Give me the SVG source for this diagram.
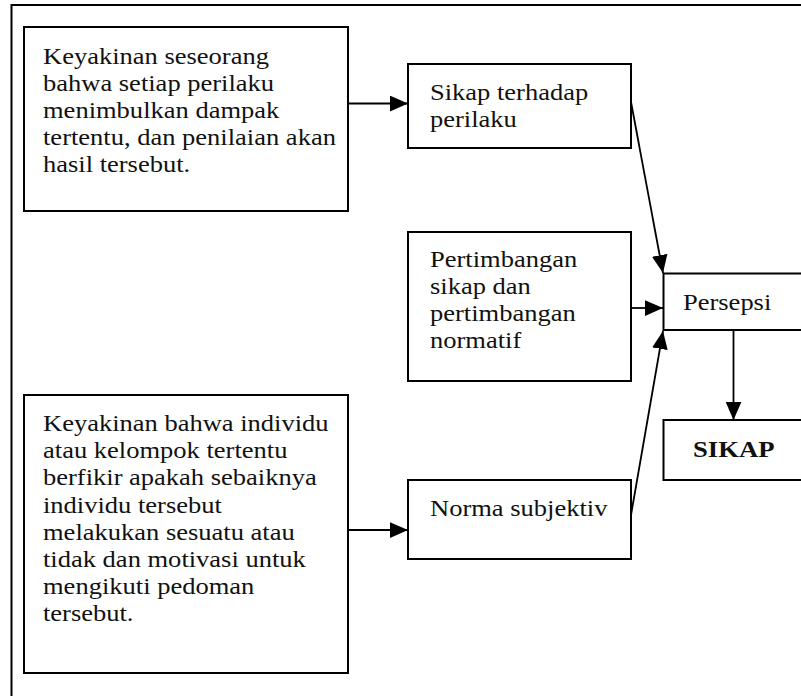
<svg xmlns="http://www.w3.org/2000/svg" width="801" height="696" viewBox="0 0 801 696">
<defs>
<style>
.box{fill:#fff;stroke:#000;stroke-width:2}
.t{font-family:"Liberation Serif","Times New Roman",serif;font-size:24px;fill:#111}
.b{font-weight:bold}
.c{stroke:#000;stroke-width:1.8;fill:none;marker-end:url(#ah)}
</style>
<marker id="ah" markerUnits="userSpaceOnUse" markerWidth="18" markerHeight="16" viewBox="0 0 16 14" refX="16" refY="7" orient="auto">
<path d="M0,0 L16,7 L0,14 Z" fill="#000"/>
</marker>
</defs>
<rect x="0" y="0" width="801" height="696" fill="#fff"/>
<g id="frame" fill="none" stroke="#000" stroke-width="2">
<path d="M11.5,696 V5 H801"/>
</g>
<g id="n1">
<rect class="box" x="24" y="27" width="324" height="184"/>
<text class="t" x="43" y="63.5" textLength="225.9" lengthAdjust="spacingAndGlyphs">Keyakinan seseorang</text>
<text class="t" x="43" y="90.7" textLength="231.1" lengthAdjust="spacingAndGlyphs">bahwa setiap perilaku</text>
<text class="t" x="43" y="117.9" textLength="236.3" lengthAdjust="spacingAndGlyphs">menimbulkan dampak</text>
<text class="t" x="43" y="145.1" textLength="292.9" lengthAdjust="spacingAndGlyphs">tertentu, dan penilaian akan</text>
<text class="t" x="43" y="172.3" textLength="147.2" lengthAdjust="spacingAndGlyphs">hasil tersebut.</text>
</g>
<g id="n2">
<rect class="box" x="24" y="395" width="324" height="278"/>
<text class="t" x="43" y="431" textLength="285.6" lengthAdjust="spacingAndGlyphs">Keyakinan bahwa individu</text>
<text class="t" x="43" y="458.2" textLength="244.4" lengthAdjust="spacingAndGlyphs">atau kelompok tertentu</text>
<text class="t" x="43" y="485.4" textLength="273.7" lengthAdjust="spacingAndGlyphs">berfikir apakah sebaiknya</text>
<text class="t" x="43" y="512.6" textLength="178.9" lengthAdjust="spacingAndGlyphs">individu tersebut</text>
<text class="t" x="43" y="539.8" textLength="251.7" lengthAdjust="spacingAndGlyphs">melakukan sesuatu atau</text>
<text class="t" x="43" y="567" textLength="262.8" lengthAdjust="spacingAndGlyphs">tidak dan motivasi untuk</text>
<text class="t" x="43" y="594.2" textLength="211.3" lengthAdjust="spacingAndGlyphs">mengikuti pedoman</text>
<text class="t" x="43" y="621.4" textLength="90.5" lengthAdjust="spacingAndGlyphs">tersebut.</text>
</g>
<g id="n3">
<rect class="box" x="408" y="64" width="223" height="84"/>
<text class="t" x="430" y="100" textLength="158.2" lengthAdjust="spacingAndGlyphs">Sikap terhadap</text>
<text class="t" x="430" y="127.2" textLength="86.8" lengthAdjust="spacingAndGlyphs">perilaku</text>
</g>
<g id="n4">
<rect class="box" x="408" y="232" width="223" height="149"/>
<text class="t" x="430" y="266.5" textLength="147.2" lengthAdjust="spacingAndGlyphs">Pertimbangan</text>
<text class="t" x="430" y="293.5" textLength="100.8" lengthAdjust="spacingAndGlyphs">sikap dan</text>
<text class="t" x="430" y="320.5" textLength="145.7" lengthAdjust="spacingAndGlyphs">pertimbangan</text>
<text class="t" x="430" y="347.5" textLength="91.3" lengthAdjust="spacingAndGlyphs">normatif</text>
</g>
<g id="n5">
<rect class="box" x="408" y="480" width="223" height="79"/>
<text class="t" x="430" y="515.5" textLength="177.4" lengthAdjust="spacingAndGlyphs">Norma subjektiv</text>
</g>
<g id="n6">
<rect class="box" x="663.5" y="273.5" width="160" height="56.5"/>
<text class="t" x="683" y="310" textLength="88.3" lengthAdjust="spacingAndGlyphs">Persepsi</text>
</g>
<g id="n7">
<rect class="box" x="663.5" y="420" width="160" height="60"/>
<text class="t b" x="693" y="457" textLength="81.5" lengthAdjust="spacingAndGlyphs">SIKAP</text>
</g>
<g id="connectors">
<line class="c" x1="348" y1="103.5" x2="408" y2="103.5"/>
<line class="c" x1="631" y1="102" x2="663" y2="273"/>
<line class="c" x1="631" y1="308" x2="663" y2="308"/>
<line class="c" x1="733.5" y1="330" x2="733.5" y2="420"/>
<line class="c" x1="348" y1="530" x2="408" y2="530"/>
<line class="c" x1="631" y1="515" x2="663" y2="331"/>
</g>
</svg>
